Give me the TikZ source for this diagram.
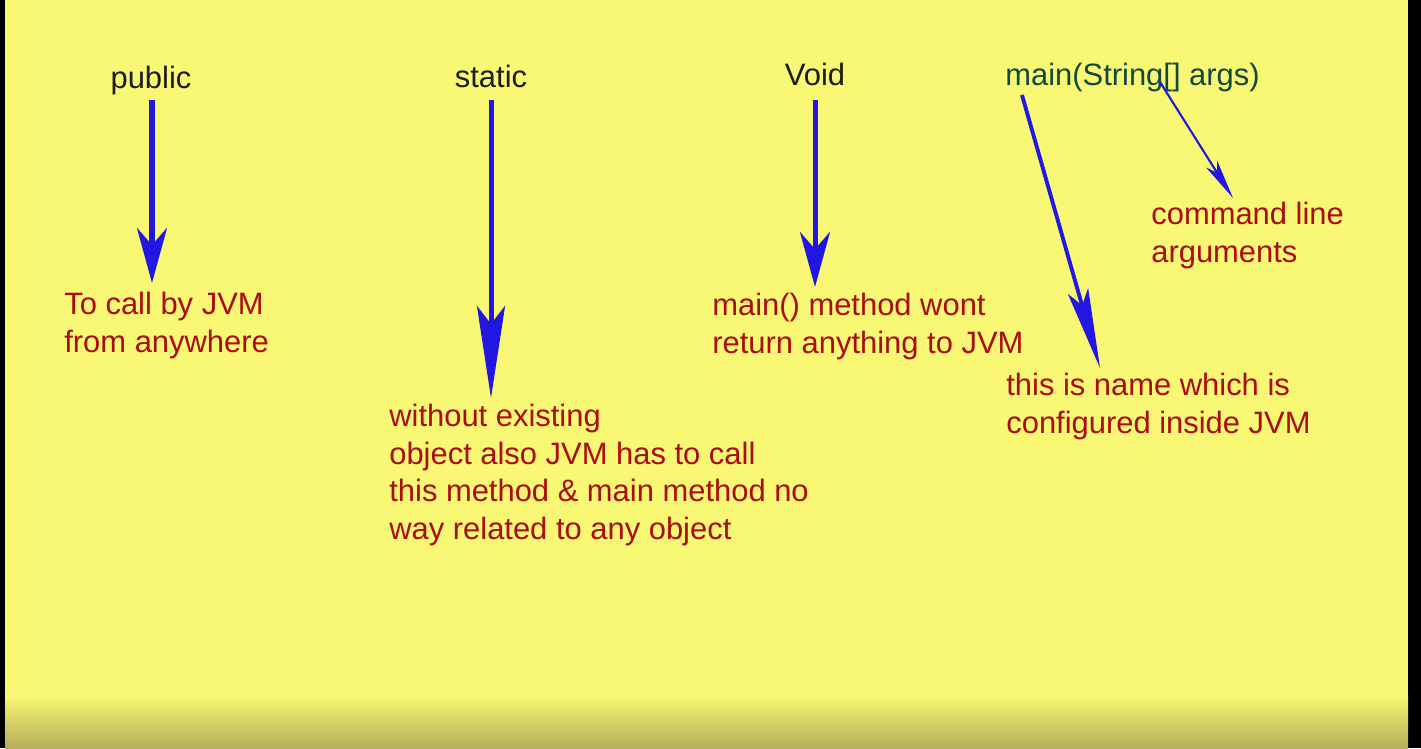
\documentclass[tikz,border=0pt]{standalone}
\usepackage{fontspec}
\setmainfont{Liberation Sans}
\usepackage{tikz}
\usetikzlibrary{arrows.meta,calc}
\usepackage{xcolor}

\definecolor{bgyellow}{RGB}{248,248,116}
\definecolor{bgshade}{RGB}{180,174,90}
\definecolor{notered}{RGB}{170,12,16}
\definecolor{arrowblue}{RGB}{34,22,226}
\definecolor{sigteal}{RGB}{18,72,62}
\definecolor{keyblack}{RGB}{28,28,24}

\tikzset{
  keyword/.style={inner sep=0pt, anchor=base, text=keyblack},
  note/.style={inner sep=0pt, anchor=north west, align=left, text=notered},
  bigarrow/.style={draw=arrowblue, line width=2.85pt,
    -{Stealth[length=11mm, width=6mm, inset=3.4mm]}},
  thinarrow/.style={draw=arrowblue, line width=2.2pt,
    -{Stealth[length=16mm, width=4.2mm, inset=3mm]}},
  hairarrow/.style={draw=arrowblue, line width=1.2pt,
    -{Stealth[length=8mm, width=2.6mm, inset=2mm]}}
}

\begin{document}
\begin{tikzpicture}[x=0.02cm, y=-0.02cm, font=\fontsize{17.6pt}{21.4pt}\selectfont]
			% background
			\useasboundingbox (0,0) rectangle (1421,748);
			\fill[black] (0,0) rectangle (1421,748);
			\fill[bgyellow] (5,0) rectangle (1408,696);
			\shade[top color=bgyellow, bottom color=bgshade] (5,695) rectangle (1408,748);
			% keywords of the signature
			\node[keyword] (public) at (151,88) {public};
			\node[keyword] (static) at (491,87) {static};
			\node[keyword] (void) at (815,85) {Void};
			\node[keyword, anchor=base west, text=sigteal] (mainsig) at (1005,85) {main(String[] args)};
			% explanations
			\node[note] (callnote) at (64,292) {To call by JVM\\from anywhere};
			\node[note] (staticnote) at (389,404) {without existing\\object also JVM has to call\\this method \& main method no\\way related to any object};
			\node[note] (voidnote) at (712,293) {main() method wont\\return anything to JVM};
			\node[note] (argsnote) at (1151,202) {command line\\arguments};
			\node[note] (namenote) at (1006,373) {this is name which is\\configured inside JVM};
			% arrows
			\draw[bigarrow] ($(public.base)+(1,12)$) -- ($(public.base |- callnote.north)+(1,-9)$);
			\draw[bigarrow, -{Stealth[length=18.4mm, width=5.6mm, inset=3.6mm]}] ($(static.base)+(0,13)$) -- ($(static.base |- staticnote.north)+(0,-6)$);
			\draw[bigarrow] ($(void.base)+(0,15)$) -- ($(void.base |- voidnote.north)+(0,-6)$);
			\coordinate (mfoot) at ($(mainsig.base west)+(17,10)$);
			\coordinate (gfoot) at ($(mainsig.base west)+(155,-3)$);
			\draw[thinarrow] (mfoot) -- ($(namenote.north west)+(94,-5)$);
			\draw[hairarrow] (gfoot) -- ($(argsnote.north west)+(82,-4)$);
\end{tikzpicture}
\end{document}
